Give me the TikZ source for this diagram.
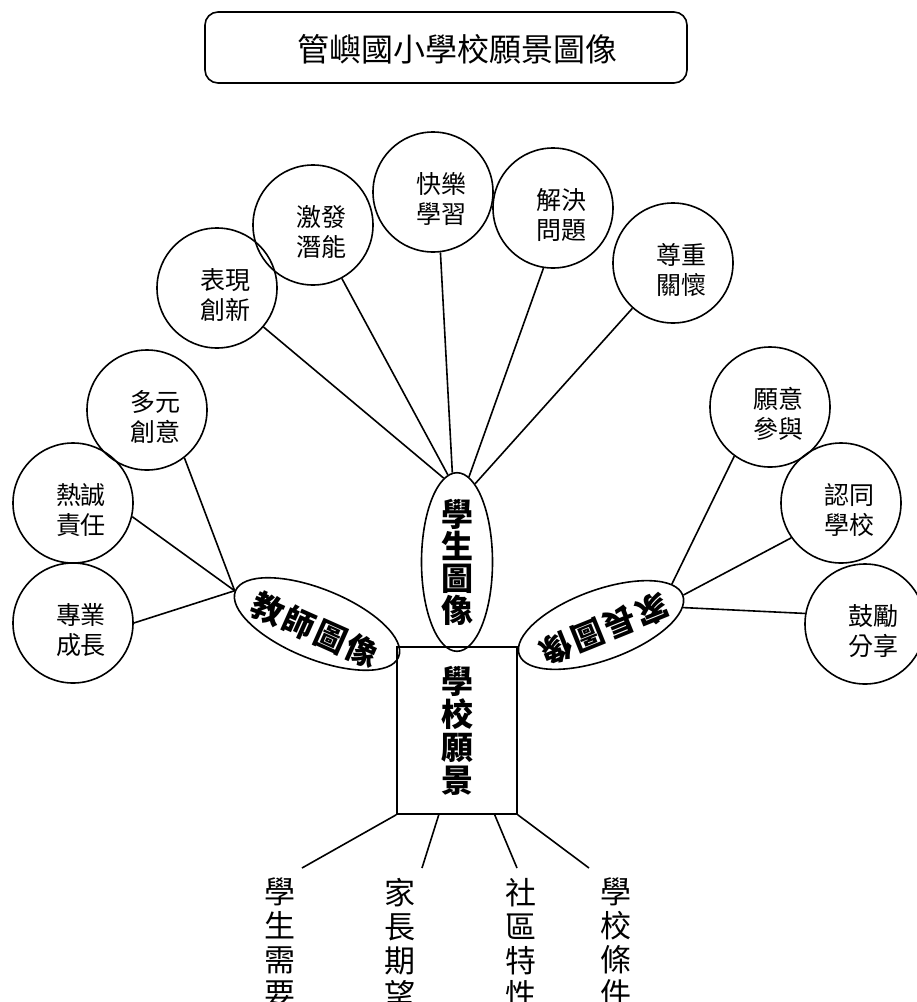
\documentclass[tikz,border=0pt]{standalone}
\usepackage{fontspec}
\setmainfont{Noto Sans CJK TC}
\usetikzlibrary{shapes.geometric,calc}
\begin{document}
\begin{tikzpicture}[x=1pt,y=-1pt,
  every node/.style={inner sep=0pt},
  ln/.style={line width=1.6pt},
  circ/.style={circle,draw,line width=1.6pt,minimum size=120pt},
  ctext/.style={font=\fontsize{25}{30}\selectfont,align=center},
  btext/.style={font=\bfseries\fontsize{32}{32}\selectfont,align=center},
  rtext/.style={font=\bfseries\fontsize{32}{32}\selectfont\addfontfeature{LetterSpace=8}},
  vtext/.style={font=\fontsize{31}{34}\selectfont,align=center,anchor=north},
  ell/.style={ellipse,draw,line width=1.6pt}
]
\useasboundingbox (0,0) rectangle (917,1002);

% title
\node[draw,line width=1.6pt,rounded corners=13pt,minimum width=482pt,minimum height=71pt] (title) at (446,47.5) {};
\node[font=\fontsize{32}{32}\selectfont] (titletext) at (457,49) {管嶼國小學校願景圖像};

% student circles
\node[circ] (c1) at (217,288) {};
\node[ctext] (c1t) at ([shift={(8,7)}]c1) {表現\\創新};
\node[circ] (c2) at (313,225) {};
\node[ctext] (c2t) at ([shift={(8,7)}]c2) {激發\\潛能};
\node[circ] (c3) at (433,192) {};
\node[ctext] (c3t) at ([shift={(8,7)}]c3) {快樂\\學習};
\node[circ] (c4) at (553,208) {};
\node[ctext] (c4t) at ([shift={(8,7)}]c4) {解決\\問題};
\node[circ] (c5) at (673,263) {};
\node[ctext] (c5t) at ([shift={(8,7)}]c5) {尊重\\關懷};

% teacher circles
\node[circ] (t1) at (147,410) {};
\node[ctext] (t1t) at ([shift={(8,7)}]t1) {多元\\創意};
\node[circ] (t2) at (73,503) {};
\node[ctext] (t2t) at ([shift={(8,7)}]t2) {熱誠\\責任};
\node[circ] (t3) at (73,623) {};
\node[ctext] (t3t) at ([shift={(8,7)}]t3) {專業\\成長};

% parent circles
\node[circ] (p1) at (770,407) {};
\node[ctext] (p1t) at ([shift={(8,7)}]p1) {願意\\參與};
\node[circ] (p2) at (841,503) {};
\node[ctext] (p2t) at ([shift={(8,7)}]p2) {認同\\學校};
\node[circ] (p3) at (865,624) {};
\node[ctext] (p3t) at ([shift={(8,7)}]p3) {鼓勵\\分享};

% ellipses
\node[ell,minimum width=71pt,minimum height=169pt,btext] (se) at (457,562) {學\\生\\圖\\像};
\node[ell,minimum width=176pt,minimum height=70pt,rotate=-22] (te) at (317,624) {};
\node[rtext,rotate=-24] (tet) at (315,630) {教師圖像};
\node[ell,minimum width=174pt,minimum height=70pt,rotate=20] (pe) at (601,625) {};
\node[rtext,rotate=202] (pet) at (604,629) {家長圖像};

% school vision
\node[draw,line width=1.6pt,minimum width=120pt,minimum height=167pt,btext,font=\bfseries\fontsize{32}{33}\selectfont] (r) at (457,730.5) {學\\校\\願\\景};

% student connectors
\draw[ln] (c1) -- (se.99.5);
\draw[ln] (c2) -- (se.96.3);
\draw[ln] (c3.-83) -- (se.93.4);
\draw[ln] (c4.-99.5) -- (se.82.3);
\draw[ln] (c5) -- (se.77.7);

% teacher connectors
\draw[ln] (t1.-52.5) -- (te.west);
\draw[ln] (t2.-13) -- (te.west);
\draw[ln] (t3.0) -- (te.west);

% parent connectors
\draw[ln] (p1.-126) -- (pe.10);
\draw[ln] (p2.-145) -- (pe.0);
\draw[ln] (p3.170) -- (pe.-8);

% bottom
\coordinate (e1) at (302,868);
\coordinate (e2) at (422,868);
\coordinate (e3) at (517,868);
\coordinate (e4) at (589,868);
\draw[ln] (r.south west) -- (e1);
\draw[ln] ($(r.south west)!0.35!(r.south east)$) -- (e2);
\draw[ln] ($(r.south west)!0.81!(r.south east)$) -- (e3);
\draw[ln] (r.south east) -- (e4);

\node[vtext] (b1) at (280,878) {學\\生\\需\\要};
\node[vtext] (b2) at (400,878) {家\\長\\期\\望};
\node[vtext] (b3) at (521,878) {社\\區\\特\\性};
\node[vtext] (b4) at (616,878) {學\\校\\條\\件};
\end{tikzpicture}
\end{document}
